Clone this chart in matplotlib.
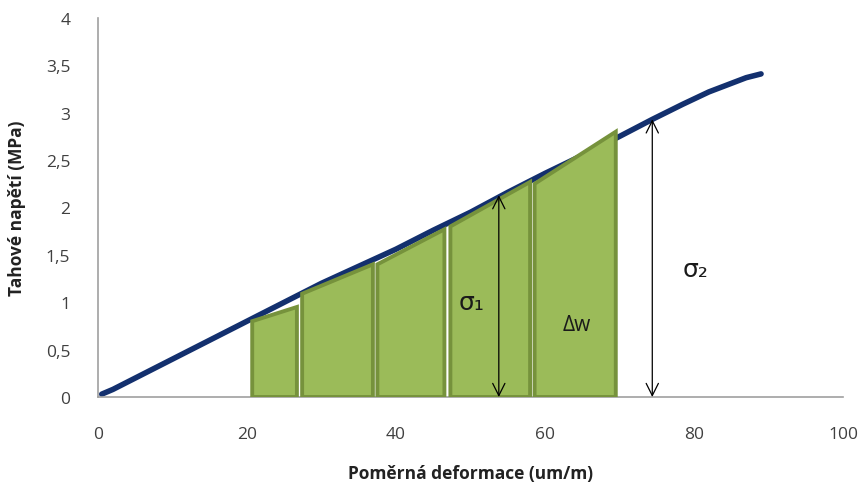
import matplotlib.pyplot as plt
from matplotlib.patches import Polygon

# Data
curve_x = [0.5, 2, 5, 10, 15, 20, 25, 30, 35, 40, 45, 50, 55, 60, 65, 70, 74.4, 78.5, 82, 85, 87, 89]
curve_y = [0.03, 0.08, 0.2, 0.4, 0.6, 0.8, 1.0, 1.2, 1.38, 1.56, 1.76, 1.95, 2.16, 2.36, 2.55, 2.75, 2.93, 3.09, 3.22, 3.31, 3.37, 3.41]

strip_left = [20.7, 27.4, 37.5, 47.3, 58.6]
strip_right = [26.7, 36.9, 46.5, 58.0, 69.5]
strip_top_left = [0.80, 1.09, 1.40, 1.80, 2.25]
strip_top_right = [0.95, 1.40, 1.77, 2.27, 2.80]

sigma1_x, sigma1_y = 53.8, 2.13
sigma2_x, sigma2_y = 74.4, 2.93

xticks = [0, 20, 40, 60, 80, 100]
yticks = [0, 0.5, 1, 1.5, 2, 2.5, 3, 3.5, 4]
yticklabels = ['0', '0,5', '1', '1,5', '2', '2,5', '3', '3,5', '4']

plt.rcParams['font.family'] = ['Open Sans', 'DejaVu Sans']

fig = plt.figure(figsize=(8.65, 4.89), dpi=100)
ax = fig.add_axes([98/865, 1 - 398/489, (843-98)/865, (398-19)/489])

ax.set_xlim(0, 100)
ax.set_ylim(0, 4)

for l, r, tl, tr in zip(strip_left, strip_right, strip_top_left, strip_top_right):
    poly = Polygon([(l, 0), (l, tl), (r, tr), (r, 0)], closed=True,
                   facecolor='#9BBB59', edgecolor='#76923C', linewidth=2.8, zorder=3)
    ax.add_patch(poly)

ax.plot(curve_x, curve_y, color='#13306E', linewidth=4.0, solid_capstyle='round',
        solid_joinstyle='round', zorder=2)

arrow_kw = dict(arrowstyle='<->', color='black', lw=0.9, mutation_scale=22,
                shrinkA=0, shrinkB=0)
ax.annotate('', xy=(sigma1_x, sigma1_y), xytext=(sigma1_x, 0), arrowprops=arrow_kw, zorder=5)
ax.annotate('', xy=(sigma2_x, sigma2_y), xytext=(sigma2_x, 0), arrowprops=arrow_kw, zorder=5)

ax.text(50.2, 1.0, 'σ₁', fontsize=18, ha='center', va='center', color='#1a1a1a', zorder=6,
        family=['DejaVu Sans'])
ax.text(80.2, 1.35, 'σ₂', fontsize=18, ha='center', va='center', color='#1a1a1a', zorder=6,
        family=['DejaVu Sans'])
ax.text(64.2, 0.77, 'Δw', fontsize=15, ha='center', va='center', color='#1a1a1a', zorder=6)

ax.set_xticks(xticks)
ax.set_xticklabels([str(v) for v in xticks])
ax.set_yticks(yticks)
ax.set_yticklabels(yticklabels)
ax.tick_params(axis='both', length=0, labelsize=12.5, labelcolor='#404040')
ax.tick_params(axis='x', pad=21)
ax.tick_params(axis='y', pad=20)

for s in ['top', 'right']:
    ax.spines[s].set_visible(False)
for s in ['left', 'bottom']:
    ax.spines[s].set_color('#A0A0A0')
    ax.spines[s].set_linewidth(1.2)

ax.set_xlabel('Poměrná deformace (um/m)', fontsize=12.5, fontweight='bold', color='#222222', labelpad=16)
ax.set_ylabel('Tahové napětí (MPa)', fontsize=12.5, fontweight='bold', color='#222222', labelpad=14)

fig.savefig('out.png', dpi=100)
